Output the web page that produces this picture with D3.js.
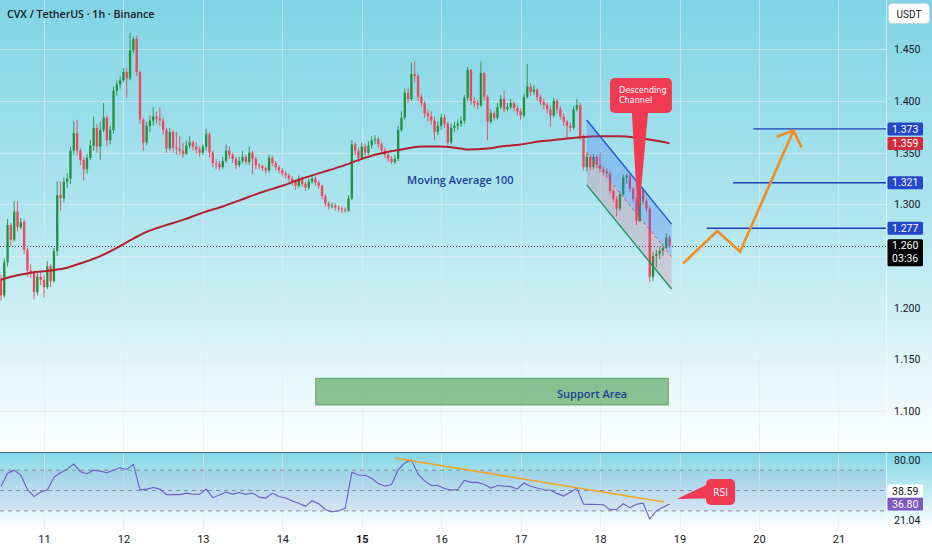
<!DOCTYPE html>
<html><head><meta charset="utf-8">
<script src="https://cdn.jsdelivr.net/npm/d3@7"></script>
<style>
html,body{margin:0;padding:0;background:#fff;}
svg{display:block;font-family:"Open Sans","DejaVu Sans",sans-serif;}
</style></head><body>
<svg id="c" width="932" height="550"></svg>
<script>
// ---------------- DATA ----------------
const startHour = -13;          // first candle: hours relative to day 11 00:00
const firstOpen = 1.228;
const closes = [
 1.212,1.244,1.280,1.266,1.293,1.278,1.283,1.256,1.236,1.234,1.215,1.230,1.227,
 1.220,1.240,1.226,1.255,1.309,1.306,1.322,1.325,1.352,1.369,1.352,1.343,
 1.334,1.345,1.357,1.374,1.356,1.372,1.384,1.362,1.372,1.410,1.416,1.420,
 1.428,1.422,1.449,1.460,1.428,1.382,1.360,1.376,1.381,1.385,1.383,1.381,
 1.372,1.354,1.370,1.355,1.354,1.352,1.349,1.357,1.360,1.356,1.353,1.350,
 1.356,1.368,1.350,1.340,1.339,1.336,1.342,1.352,1.348,1.344,1.338,1.342,
 1.346,1.341,1.350,1.344,1.338,1.337,1.335,1.333,1.345,1.340,1.336,1.333,
 1.330,1.328,1.325,1.322,1.318,1.325,1.320,1.316,1.322,1.325,1.321,1.318,
 1.308,1.301,1.298,1.299,1.297,1.296,1.295,1.294,1.306,1.358,1.352,1.345,
 1.356,1.350,1.357,1.362,1.363,1.358,1.352,1.348,1.344,1.341,1.344,1.372,
 1.384,1.408,1.402,1.426,1.424,1.404,1.398,1.388,1.385,1.381,1.370,1.376,
 1.384,1.378,1.360,1.374,1.376,1.378,1.381,1.403,1.430,1.400,1.398,1.396,
 1.427,1.404,1.380,1.388,1.384,1.394,1.402,1.392,1.394,1.398,1.393,1.390,
 1.386,1.404,1.414,1.409,1.411,1.404,1.399,1.396,1.392,1.386,1.400,1.392,
 1.385,1.380,1.376,1.374,1.392,1.396,1.365,1.336,1.346,1.336,1.346,1.338,
 1.334,1.332,1.330,1.313,1.305,1.296,1.310,1.326,1.328,1.315,1.305,1.284,
 1.314,1.303,1.296,1.230,1.250,1.252,1.255,1.258,1.268,1.260];
const highs = [
 1.232,1.248,1.286,1.282,1.303,1.303,1.287,1.285,1.258,1.242,1.236,1.234,1.236,
 1.232,1.245,1.242,1.258,1.322,1.322,1.326,1.330,1.356,1.380,1.382,1.354,
 1.346,1.349,1.362,1.385,1.378,1.380,1.398,1.386,1.376,1.414,1.420,1.424,
 1.432,1.432,1.466,1.462,1.463,1.430,1.384,1.380,1.386,1.394,1.390,1.394,
 1.384,1.374,1.374,1.372,1.370,1.366,1.360,1.362,1.366,1.362,1.360,1.356,
 1.358,1.373,1.370,1.352,1.344,1.342,1.346,1.358,1.356,1.350,1.346,1.346,
 1.352,1.348,1.356,1.352,1.346,1.340,1.338,1.337,1.348,1.347,1.342,1.338,
 1.335,1.332,1.330,1.327,1.324,1.328,1.327,1.322,1.325,1.328,1.327,1.323,
 1.319,1.310,1.303,1.302,1.301,1.299,1.298,1.297,1.309,1.362,1.360,1.355,
 1.360,1.359,1.361,1.366,1.367,1.365,1.360,1.355,1.350,1.347,1.348,1.376,
 1.390,1.412,1.412,1.437,1.438,1.426,1.407,1.400,1.392,1.390,1.385,1.380,
 1.388,1.387,1.380,1.378,1.380,1.382,1.385,1.406,1.433,1.431,1.404,1.401,
 1.438,1.428,1.406,1.392,1.390,1.398,1.406,1.410,1.398,1.402,1.400,1.396,
 1.393,1.407,1.436,1.417,1.415,1.412,1.406,1.402,1.398,1.395,1.403,1.402,
 1.395,1.388,1.382,1.379,1.395,1.402,1.398,1.368,1.349,1.348,1.349,1.348,
 1.350,1.337,1.335,1.332,1.315,1.308,1.313,1.329,1.330,1.330,1.317,1.307,
 1.318,1.316,1.306,1.298,1.254,1.256,1.259,1.262,1.272,1.270];
const lows = [
 1.207,1.210,1.240,1.260,1.264,1.274,1.276,1.252,1.230,1.229,1.208,1.212,1.222,
 1.210,1.218,1.220,1.224,1.250,1.294,1.302,1.316,1.320,1.348,1.347,1.338,
 1.323,1.330,1.343,1.352,1.350,1.343,1.370,1.356,1.358,1.368,1.405,1.412,
 1.418,1.403,1.420,1.446,1.424,1.378,1.352,1.357,1.370,1.376,1.378,1.376,
 1.368,1.350,1.352,1.350,1.348,1.348,1.345,1.348,1.354,1.352,1.349,1.346,
 1.348,1.352,1.345,1.336,1.334,1.333,1.334,1.340,1.344,1.340,1.334,1.336,
 1.340,1.338,1.338,1.329,1.334,1.334,1.332,1.330,1.331,1.337,1.333,1.330,
 1.327,1.325,1.322,1.318,1.314,1.316,1.317,1.313,1.314,1.320,1.318,1.315,
 1.305,1.298,1.295,1.296,1.294,1.293,1.292,1.292,1.293,1.304,1.348,1.341,
 1.343,1.347,1.348,1.354,1.358,1.355,1.349,1.345,1.341,1.339,1.339,1.342,
 1.370,1.382,1.398,1.400,1.418,1.400,1.394,1.384,1.380,1.377,1.362,1.367,
 1.372,1.374,1.357,1.358,1.370,1.372,1.375,1.378,1.400,1.396,1.394,1.392,
 1.394,1.400,1.362,1.378,1.381,1.382,1.392,1.389,1.390,1.392,1.390,1.386,
 1.382,1.384,1.402,1.405,1.406,1.400,1.396,1.392,1.388,1.375,1.384,1.388,
 1.382,1.376,1.364,1.370,1.372,1.390,1.362,1.333,1.332,1.333,1.334,1.335,
 1.331,1.328,1.326,1.310,1.302,1.288,1.294,1.308,1.320,1.312,1.302,1.280,
 1.283,1.300,1.293,1.225,1.226,1.239,1.247,1.250,1.257,1.258];

const maHours  = [-13,-10,-4,2,6,12,17,22,27,30,36,42,48,54,60,66,72,78,84,90,96,100,104,108,114,120,126,128,134,138,144,150,156,162,168,174,180,186,189];
const maValues = [1.227,1.230,1.234,1.236,1.238,1.244,1.250,1.258,1.267,1.272,1.279,1.285,1.292,1.298,1.305,1.312,1.318,1.325,1.331,1.337,1.344,1.348,1.351,1.353,1.356,1.356,1.354,1.353,1.354,1.356,1.358,1.361,1.363,1.365,1.366,1.366,1.364,1.361,1.359];

const rsiStartHour = -13, rsiStepHours = 2;
const rsiValues = [
 54,67,70,65,51,44,48.5,
 50.5,63,67.5,71,76,68.5,66.5,70,69,67.5,
 70,72.4,70.7,75.7,50.7,51.4,53,51.4,46,46,
 46,47.4,46.4,46.4,51.4,43,45.5,48.4,46.5,48,
 46.2,47.6,43.5,42.6,47.5,44.2,42.7,39.7,37.6,34.5,
 40,37,31.4,29,30.2,32.5,68,65.3,64.9,62,
 56.8,54.3,56,70.5,77,80,66,59.5,55,55,
 52,50.5,51,60,58,58,56,52.4,55,54.3,
 53.8,51.6,57.4,54.3,52.4,50.8,50.5,47.2,44.6,48.3,
 52.4,36.5,36.4,36.2,36,31.2,31.5,37,33.2,36.5,
 37.6,22,30,33.6,36.8];

const dayLabels  = ["11","12","13","14","15","16","17","18","19","20","21"];
const boldDay    = "15";
const gridPrices = [1.10,1.15,1.20,1.25,1.30,1.35,1.40,1.45];
const priceTickLabels = [1.10,1.15,1.20,1.30,1.35,1.40,1.45];  // 1.250 sits under the last-price tag
const rsiLevels  = [70,50,30];
const rsiAxisTicks = [80,21.04];

// drawings (data units: hours from day 11 00:00, price / RSI)
const channelHours = [163.96,189.6];
const channelUpper = [1.3816,1.281];
const channelLower = [1.3188,1.2182];
const targetPrices = [1.373,1.321,1.277];
const targetStartHours = [214.3,208.2,200.2];
const arrowHours  = [193.1,203.4,210.3,226.4];
const arrowPrices = [1.243,1.2743,1.2543,1.3713];
const arrowHeadHours  = [221.3,226.4,228.9];
const arrowHeadPrices = [1.3655,1.3713,1.355];
const supportHours  = [82.1,188.6];
const supportPrices = [1.106,1.1318];
const rsiTrendHours  = [106,187.3];
const rsiTrendValues = [82,38.7];
const lastPrice = 1.260, maLast = 1.359, rsiLast = 36.80, rsiMaLast = 38.59;

// ---------------- CHART ----------------
const W = 932, Hh = 550, axisX = 886, mainBottom = 452, rsiTop = 453, rsiBottom = 530;
const T0 = Date.UTC(2024, 9, 11), HR = 3600e3;
const x = d3.scaleUtc().domain([new Date(T0), new Date(T0 + 240*HR)]).range([44, 838.4]);
const xh = h => x(new Date(T0 + h*HR));
const y = d3.scaleLinear().domain([1.10, 1.45]).range([411.2, 49.3]);
const ry = d3.scaleLinear().domain([21.04, 80]).range([520, 460]);

const svg = d3.select("#c");
const defs = svg.append("defs");
function grad(id, stops){
  const g = defs.append("linearGradient").attr("id", id).attr("x1",0).attr("y1",0).attr("x2",0).attr("y2",1);
  stops.forEach(s => g.append("stop").attr("offset", s[0]).attr("stop-color", s[1]));
}
grad("gMain", [[0,"#80d4e5"],[0.5,"#b2e6f0"],[1,"#ffffff"]]);
grad("gRsi",  [[0,"#84d7e7"],[1,"#ffffff"]]);

svg.append("rect").attr("width", W).attr("height", Hh).attr("fill", "#fff");
svg.append("rect").attr("x",0).attr("y",0).attr("width",W).attr("height",mainBottom).attr("fill","url(#gMain)");
svg.append("rect").attr("x",0).attr("y",rsiTop).attr("width",W).attr("height",rsiBottom-rsiTop).attr("fill","url(#gRsi)");

// grid
const grid = svg.append("g").attr("stroke","rgba(225,235,240,0.6)").attr("stroke-width",1);
gridPrices.forEach(p => grid.append("line").attr("x1",0).attr("x2",axisX).attr("y1",Math.round(y(p))+0.5).attr("y2",Math.round(y(p))+0.5));
const days = d3.utcDay.range(new Date(T0), new Date(T0 + 241*HR));
days.forEach(d => {
  const xx = Math.round(x(d))+0.5;
  grid.append("line").attr("x1",xx).attr("x2",xx).attr("y1",0).attr("y2",mainBottom);
  grid.append("line").attr("x1",xx).attr("x2",xx).attr("y1",rsiTop).attr("y2",rsiBottom);
});

// support area
svg.append("rect")
  .attr("x", xh(supportHours[0])).attr("y", y(supportPrices[1]))
  .attr("width", xh(supportHours[1]) - xh(supportHours[0]))
  .attr("height", y(supportPrices[0]) - y(supportPrices[1]))
  .attr("fill","rgba(76,160,80,0.62)").attr("stroke","rgba(60,140,70,0.7)").attr("stroke-width",1);
svg.append("text").attr("x", xh(165.6)).attr("y", y(1.1173)).attr("text-anchor","middle")
  .attr("dominant-baseline","central").attr("font-size",11).attr("font-weight",600)
  .attr("fill","#1d3e95").text("Support Area");

// last price dotted line
svg.append("line").attr("x1",0).attr("x2",axisX).attr("y1",Math.round(y(lastPrice))+0.5).attr("y2",Math.round(y(lastPrice))+0.5)
  .attr("stroke","#444").attr("stroke-width",1).attr("stroke-dasharray","1,2");

// candles
const candles = closes.map((c,i) => ({t: new Date(T0 + (startHour+i)*HR), o: i===0 ? firstOpen : closes[i-1], c, h: highs[i], l: lows[i]}));
const UP = "#22913e", DN = "#ef4558";
const cg = svg.append("g");
candles.forEach(d => {
  const cx = x(d.t), col = d.c >= d.o ? UP : DN;
  cg.append("line").attr("x1",cx).attr("x2",cx).attr("y1",y(d.h)).attr("y2",y(d.l)).attr("stroke",col).attr("stroke-width",0.9);
  const top = y(Math.max(d.o,d.c)), bot = y(Math.min(d.o,d.c));
  cg.append("rect").attr("x",cx-1.15).attr("width",2.3).attr("y",top).attr("height",Math.max(1,bot-top)).attr("fill",col);
});

// moving average
const maLine = d3.line().x((d,i)=>xh(maHours[i])).y(d=>y(d)).curve(d3.curveMonotoneX);
svg.append("path").attr("d", maLine(maValues)).attr("fill","none").attr("stroke","#b3202c").attr("stroke-width",2);
svg.append("text").attr("x", xh(109.7)).attr("y", y(1.3236)).attr("dominant-baseline","central")
  .attr("font-size",11).attr("font-weight",600).attr("fill","#1d3e95").text("Moving Average 100");

// descending channel
const cMid = [(channelUpper[0]+channelLower[0])/2, (channelUpper[1]+channelLower[1])/2];
const P = (h,p) => [xh(h), y(p)];
svg.append("polygon").attr("points", [P(channelHours[0],channelUpper[0]),P(channelHours[1],channelUpper[1]),P(channelHours[1],cMid[1]),P(channelHours[0],cMid[0])].map(p=>p.join(",")).join(" "))
  .attr("fill","rgba(60,110,245,0.28)");
svg.append("polygon").attr("points", [P(channelHours[0],cMid[0]),P(channelHours[1],cMid[1]),P(channelHours[1],channelLower[1]),P(channelHours[0],channelLower[0])].map(p=>p.join(",")).join(" "))
  .attr("fill","rgba(240,70,110,0.20)");
svg.append("line").attr("x1",xh(channelHours[0])).attr("y1",y(channelUpper[0])).attr("x2",xh(channelHours[1])).attr("y2",y(channelUpper[1])).attr("stroke","#1f4fd6").attr("stroke-width",1.3);
svg.append("line").attr("x1",xh(channelHours[0])).attr("y1",y(channelLower[0])).attr("x2",xh(channelHours[1])).attr("y2",y(channelLower[1])).attr("stroke","#16935a").attr("stroke-width",1.3);
svg.append("line").attr("x1",xh(channelHours[0])).attr("y1",y(cMid[0])).attr("x2",xh(channelHours[1])).attr("y2",y(cMid[1])).attr("stroke","#f0465a").attr("stroke-width",1).attr("stroke-dasharray","3,3");

// descending channel callout
const CALL = "#f03a52";
svg.append("polygon").attr("points", [P(177.6,1.3890),P(182.5,1.3890),P(179.5,1.2833)].map(p=>p.join(",")).join(" ")).attr("fill",CALL);
svg.append("rect").attr("x",xh(171)).attr("y",y(1.4222)).attr("width",xh(189.7)-xh(171)).attr("height",y(1.3884)-y(1.4222)).attr("rx",5).attr("fill",CALL);
const NARROW = "'Liberation Sans Narrow','DejaVu Sans Condensed',sans-serif";
svg.append("text").attr("x",xh(173.7)).attr("y",y(1.4105)).attr("dominant-baseline","central")
  .attr("font-family",NARROW).attr("font-size",9).attr("fill","#fff").text("Descending");
svg.append("text").attr("x",xh(173.7)).attr("y",y(1.4005)).attr("dominant-baseline","central")
  .attr("font-family",NARROW).attr("font-size",9).attr("fill","#fff").text("Channel");

// target lines
targetPrices.forEach((p,i) => {
  svg.append("line").attr("x1",xh(targetStartHours[i])).attr("x2",axisX).attr("y1",y(p)).attr("y2",y(p)).attr("stroke","#1f3fb8").attr("stroke-width",1.4);
});

// orange projection arrow
const aLine = d3.line().x((d,i)=>xh(arrowHours[i])).y(d=>y(d));
svg.append("path").attr("d", aLine(arrowPrices)).attr("fill","none").attr("stroke","#f28c1e").attr("stroke-width",2.6).attr("stroke-linejoin","miter");
const hLine = d3.line().x((d,i)=>xh(arrowHeadHours[i])).y(d=>y(d));
svg.append("path").attr("d", hLine(arrowHeadPrices)).attr("fill","none").attr("stroke","#f28c1e").attr("stroke-width",2.6);

// title
svg.append("text").attr("x",7).attr("y",14).attr("dominant-baseline","central").attr("font-size",10.6).attr("font-weight",600).attr("fill","#131722").text("CVX / TetherUS · 1h · Binance");

// ---------- RSI pane ----------
svg.append("rect").attr("x",0).attr("y",ry(70)).attr("width",axisX).attr("height",ry(30)-ry(70)).attr("fill","rgba(126,87,194,0.10)");
rsiLevels.forEach(v => svg.append("line").attr("x1",0).attr("x2",axisX).attr("y1",ry(v)).attr("y2",ry(v))
  .attr("stroke","#8a8f9a").attr("stroke-width",1).attr("stroke-dasharray","4,4"));
const rLine = d3.line().x((d,i)=>xh(rsiStartHour + i*rsiStepHours)).y(d=>ry(d));
svg.append("path").attr("d", rLine(rsiValues)).attr("fill","none").attr("stroke","#6f5bc4").attr("stroke-width",1.1);
svg.append("line").attr("x1",xh(rsiTrendHours[0])).attr("y1",ry(rsiTrendValues[0])).attr("x2",xh(rsiTrendHours[1])).attr("y2",ry(rsiTrendValues[1]))
  .attr("stroke","#f2a526").attr("stroke-width",1.6);
// RSI callout
svg.append("polygon").attr("points", [[xh(191.2),ry(41.6)],[xh(201.5),ry(57.7)],[xh(201.5),ry(42.3)]].map(p=>p.join(",")).join(" ")).attr("fill",CALL);
svg.append("rect").attr("x",xh(200)).attr("y",ry(61.3)).attr("width",xh(208.8)-xh(200)).attr("height",ry(35.7)-ry(61.3)).attr("rx",5).attr("fill",CALL);
svg.append("text").attr("x",xh(204.4)).attr("y",ry(48.5)).attr("text-anchor","middle").attr("dominant-baseline","central")
  .attr("font-family",NARROW).attr("font-size",10).attr("fill","#fff").text("RSI");

// pane separator
svg.append("line").attr("x1",0).attr("x2",W).attr("y1",452.5).attr("y2",452.5).attr("stroke","#4a6878").attr("stroke-width",1);
// price axis separator
svg.append("line").attr("x1",axisX+0.5).attr("x2",axisX+0.5).attr("y1",0).attr("y2",rsiBottom).attr("stroke","rgba(255,255,255,0.55)");

// ---------- axes ----------
const AXF = "Roboto,'Open Sans',sans-serif";
const yAxis = d3.axisRight(y).tickValues(priceTickLabels).tickFormat(d3.format(".3f")).tickSize(0).tickPadding(8);
svg.append("g").attr("transform",`translate(${axisX},0)`).call(yAxis)
  .call(g => g.select(".domain").remove())
  .call(g => g.selectAll("text").attr("font-family",AXF).attr("font-size",10.5).attr("fill","#131722"));
const rAxis = d3.axisRight(ry).tickValues(rsiAxisTicks).tickFormat(d3.format(".2f")).tickSize(0).tickPadding(8);
svg.append("g").attr("transform",`translate(${axisX},0)`).call(rAxis)
  .call(g => g.select(".domain").remove())
  .call(g => g.selectAll("text").attr("font-family",AXF).attr("font-size",10.5).attr("fill","#131722"));

const xAxis = d3.axisBottom(x).ticks(d3.utcDay.every(1)).tickFormat(d => dayLabels[Math.round((d - T0)/(24*HR))] || "").tickSize(0).tickPadding(5);
svg.append("g").attr("transform",`translate(0,${rsiBottom})`).call(xAxis)
  .call(g => g.select(".domain").remove())
  .call(g => g.selectAll("text").attr("font-family",AXF).attr("font-size",11).attr("fill","#131722")
      .attr("font-weight", function(){ return d3.select(this).text() === boldDay ? 700 : 400; }));

// USDT box
svg.append("rect").attr("x",888.5).attr("y",3.5).attr("width",41).attr("height",20).attr("rx",4).attr("fill","#fff").attr("stroke","rgba(200,210,215,0.8)");
svg.append("text").attr("x",909).attr("y",14).attr("text-anchor","middle").attr("dominant-baseline","central").attr("font-family",AXF).attr("font-size",10).attr("fill","#131722").text("USDT");

// price labels
function tag(cy, fill, txtCol, txt, sub){
  const h = sub ? 27 : 13;
  const top = sub ? cy - 6.5 : cy - h/2;
  svg.append("rect").attr("x",887.5).attr("y",top).attr("width",35.5).attr("height",h).attr("rx",1.5).attr("fill",fill);
  svg.append("text").attr("x",905.2).attr("y",top+6.6).attr("text-anchor","middle").attr("dominant-baseline","central")
    .attr("font-family",AXF).attr("font-size",10.5).attr("fill",txtCol).text(txt);
  if (sub) svg.append("text").attr("x",905.2).attr("y",top+19.5).attr("text-anchor","middle").attr("dominant-baseline","central")
    .attr("font-family",AXF).attr("font-size",10.5).attr("fill",txtCol).text(sub);
}
tag(y(targetPrices[0]), "#2247c9", "#fff", d3.format(".3f")(targetPrices[0]));
tag(y(maLast), "#d12c3b", "#fff", d3.format(".3f")(maLast));
tag(y(targetPrices[1]), "#2247c9", "#fff", d3.format(".3f")(targetPrices[1]));
tag(y(targetPrices[2]), "#2247c9", "#fff", d3.format(".3f")(targetPrices[2]));
tag(y(lastPrice), "#000", "#fff", d3.format(".3f")(lastPrice), "03:36");
tag(ry(rsiLast), "#7e57c2", "#fff", d3.format(".2f")(rsiLast));
tag(ry(rsiLast)-13, "#fff", "#131722", d3.format(".2f")(rsiMaLast));
</script>
</body></html>
